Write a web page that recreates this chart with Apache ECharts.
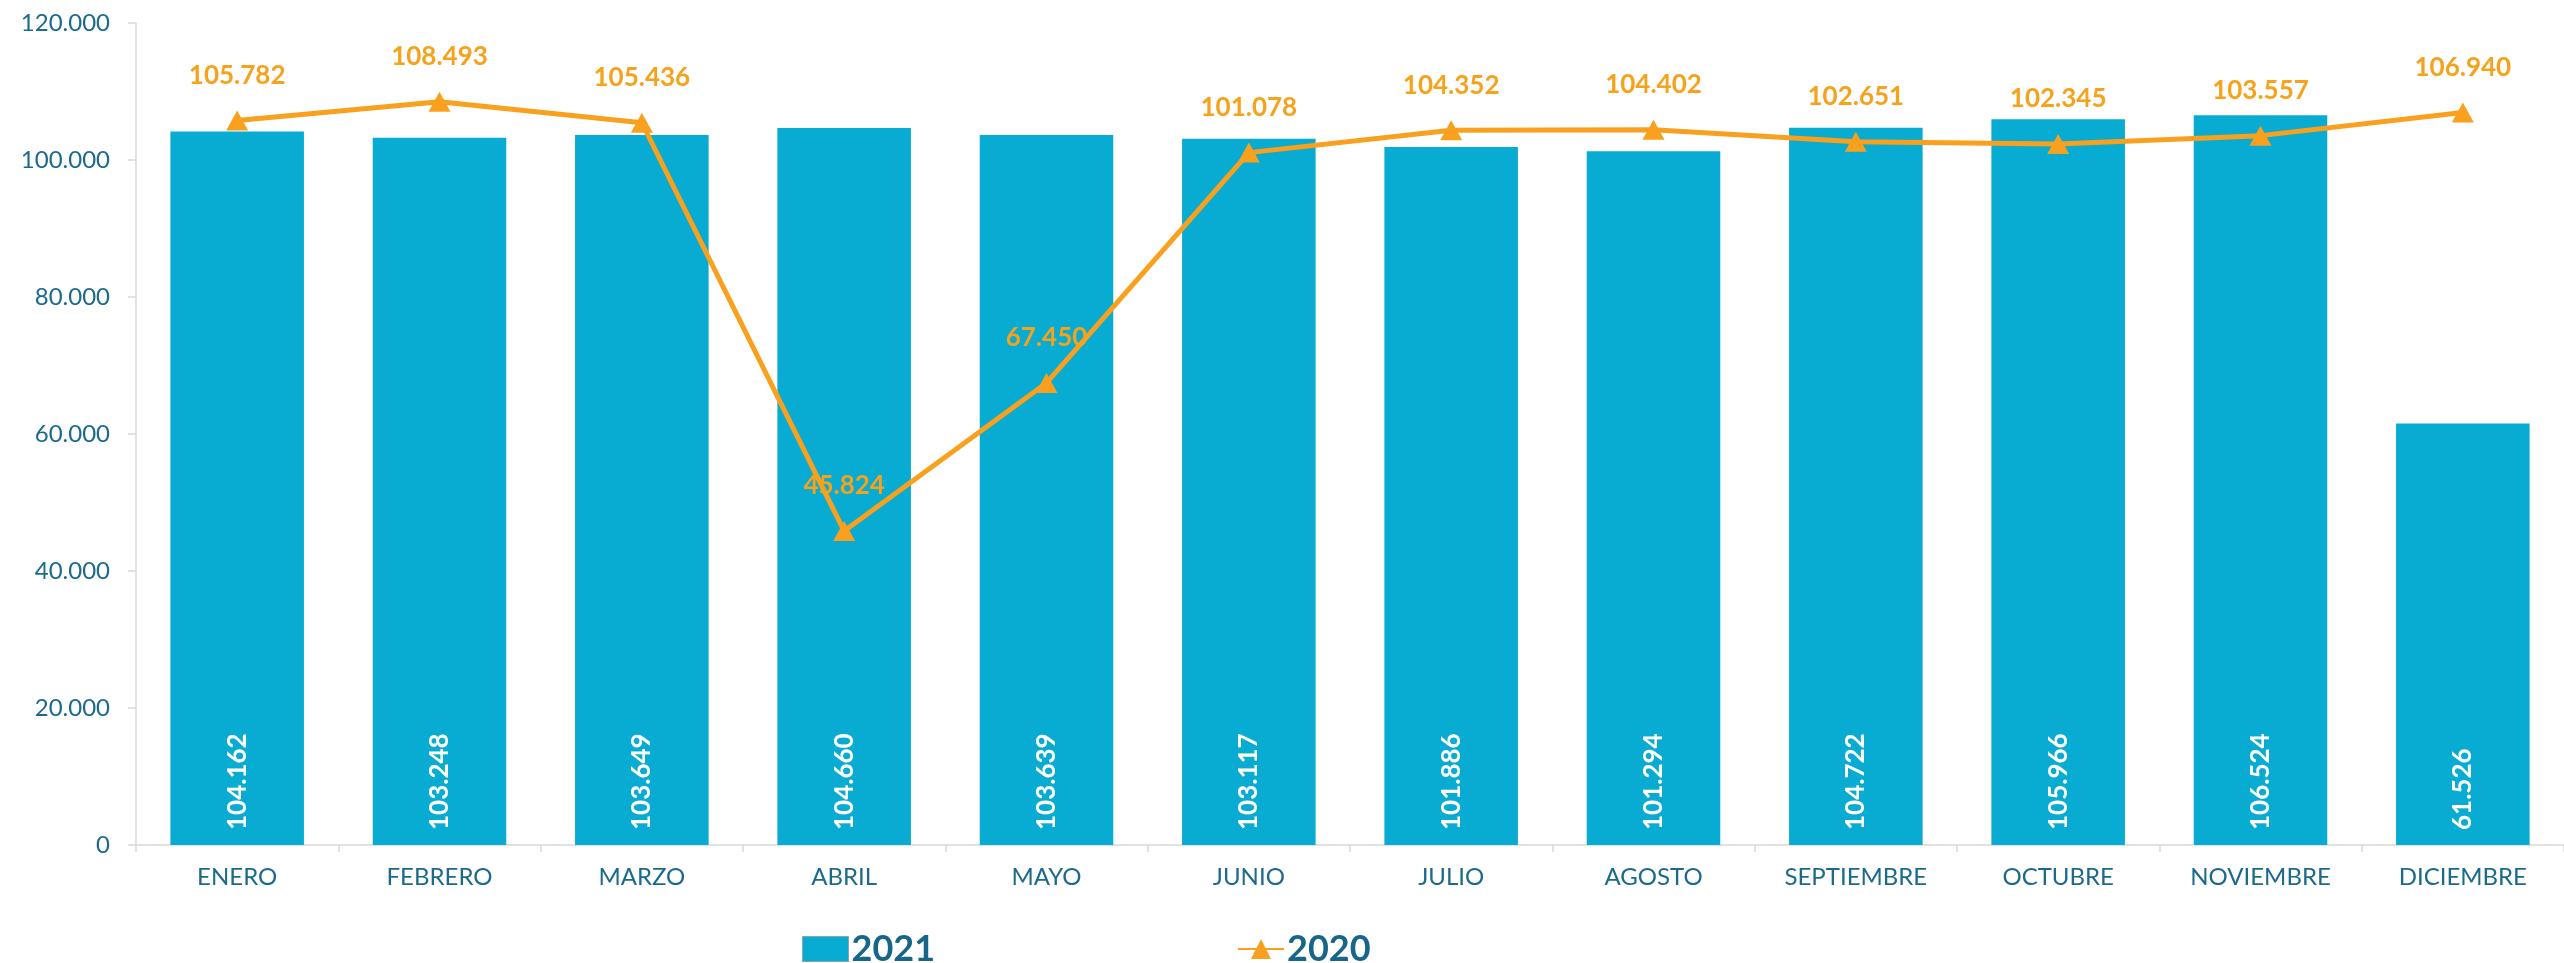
<!DOCTYPE html>
<html><head><meta charset="utf-8">
<script src="https://cdn.jsdelivr.net/npm/echarts@6/dist/echarts.min.js"></script>
<style>html,body{margin:0;padding:0;background:#fff}#c{width:2564px;height:963px}</style>
</head><body><div id="c"></div>
<script>
const months = ['ENERO','FEBRERO','MARZO','ABRIL','MAYO','JUNIO','JULIO','AGOSTO','SEPTIEMBRE','OCTUBRE','NOVIEMBRE','DICIEMBRE'];
const values2021 = [104162,103248,103649,104660,103639,103117,101886,101294,104722,105966,106524,61526];
const values2020 = [105782,108493,105436,45824,67450,101078,104352,104402,102651,102345,103557,106940];
const yTicks = [0,20000,40000,60000,80000,100000,120000];

const fmt = v => String(v).replace(/\B(?=(\d{3})+(?!\d))/g, '.');
const FONT = 'Lato, "Open Sans", sans-serif';
const BLUE_TEXT = '#1B6A8C';

const chart = echarts.init(document.getElementById('c'));
chart.setOption({
  animation: false,
  textStyle: {fontFamily: FONT},
  grid: {left: 136, right: 0, top: 23, bottom: 118, containLabel: false},
  legend: {
    left: 797, top: 926, itemGap: 302, itemWidth: 46, itemHeight: 25,
    textStyle: {fontFamily: FONT, fontSize: 36, fontWeight: 'bold', color: '#156689', padding: [0,0,0,-2]},
    data: [{name: '2021', icon: 'rect', itemStyle: {borderColor: '#8aa3ad', borderWidth: 1}}, {name: '2020'}]
  },
  xAxis: {
    type: 'category', data: months,
    axisLine: {lineStyle: {color: '#d9d9d9', width: 1.5}},
    axisTick: {show: true, length: 7, lineStyle: {color: '#d9d9d9', width: 1.5}},
    axisLabel: {color: BLUE_TEXT, fontSize: 24, margin: 20, fontFamily: FONT}
  },
  yAxis: {
    type: 'value', min: yTicks[0], max: yTicks[yTicks.length-1], interval: yTicks[1]-yTicks[0],
    axisLine: {show: true, lineStyle: {color: '#d9d9d9', width: 1.5}},
    axisTick: {show: true, length: 8, lineStyle: {color: '#d9d9d9', width: 1.5}},
    splitLine: {show: false},
    axisLabel: {color: BLUE_TEXT, fontSize: 24, margin: 26, formatter: v => fmt(v), fontFamily: FONT}
  },
  series: [
    {
      name: '2021', type: 'bar', data: values2021, barCategoryGap: '34%',
      itemStyle: {color: '#08ABD1'},
      label: {
        show: true, position: 'insideBottom', rotate: 90, align: 'left', verticalAlign: 'middle',
        distance: 15, color: '#fff', fontSize: 26, fontWeight: 'bold', fontFamily: FONT,
        formatter: p => fmt(p.value)
      },
      z: 1
    },
    {
      name: '2020', type: 'line', data: values2020,
      symbol: 'triangle', symbolSize: [22, 20],
      lineStyle: {color: '#F9A01E', width: 5},
      itemStyle: {color: '#F9A01E'},
      label: {
        show: true, position: 'top', distance: 22, color: '#F7A21B', fontSize: 26, fontWeight: 'bold', fontFamily: FONT,
        formatter: p => fmt(p.value)
      },
      z: 3
    }
  ]
});
</script></body></html>
